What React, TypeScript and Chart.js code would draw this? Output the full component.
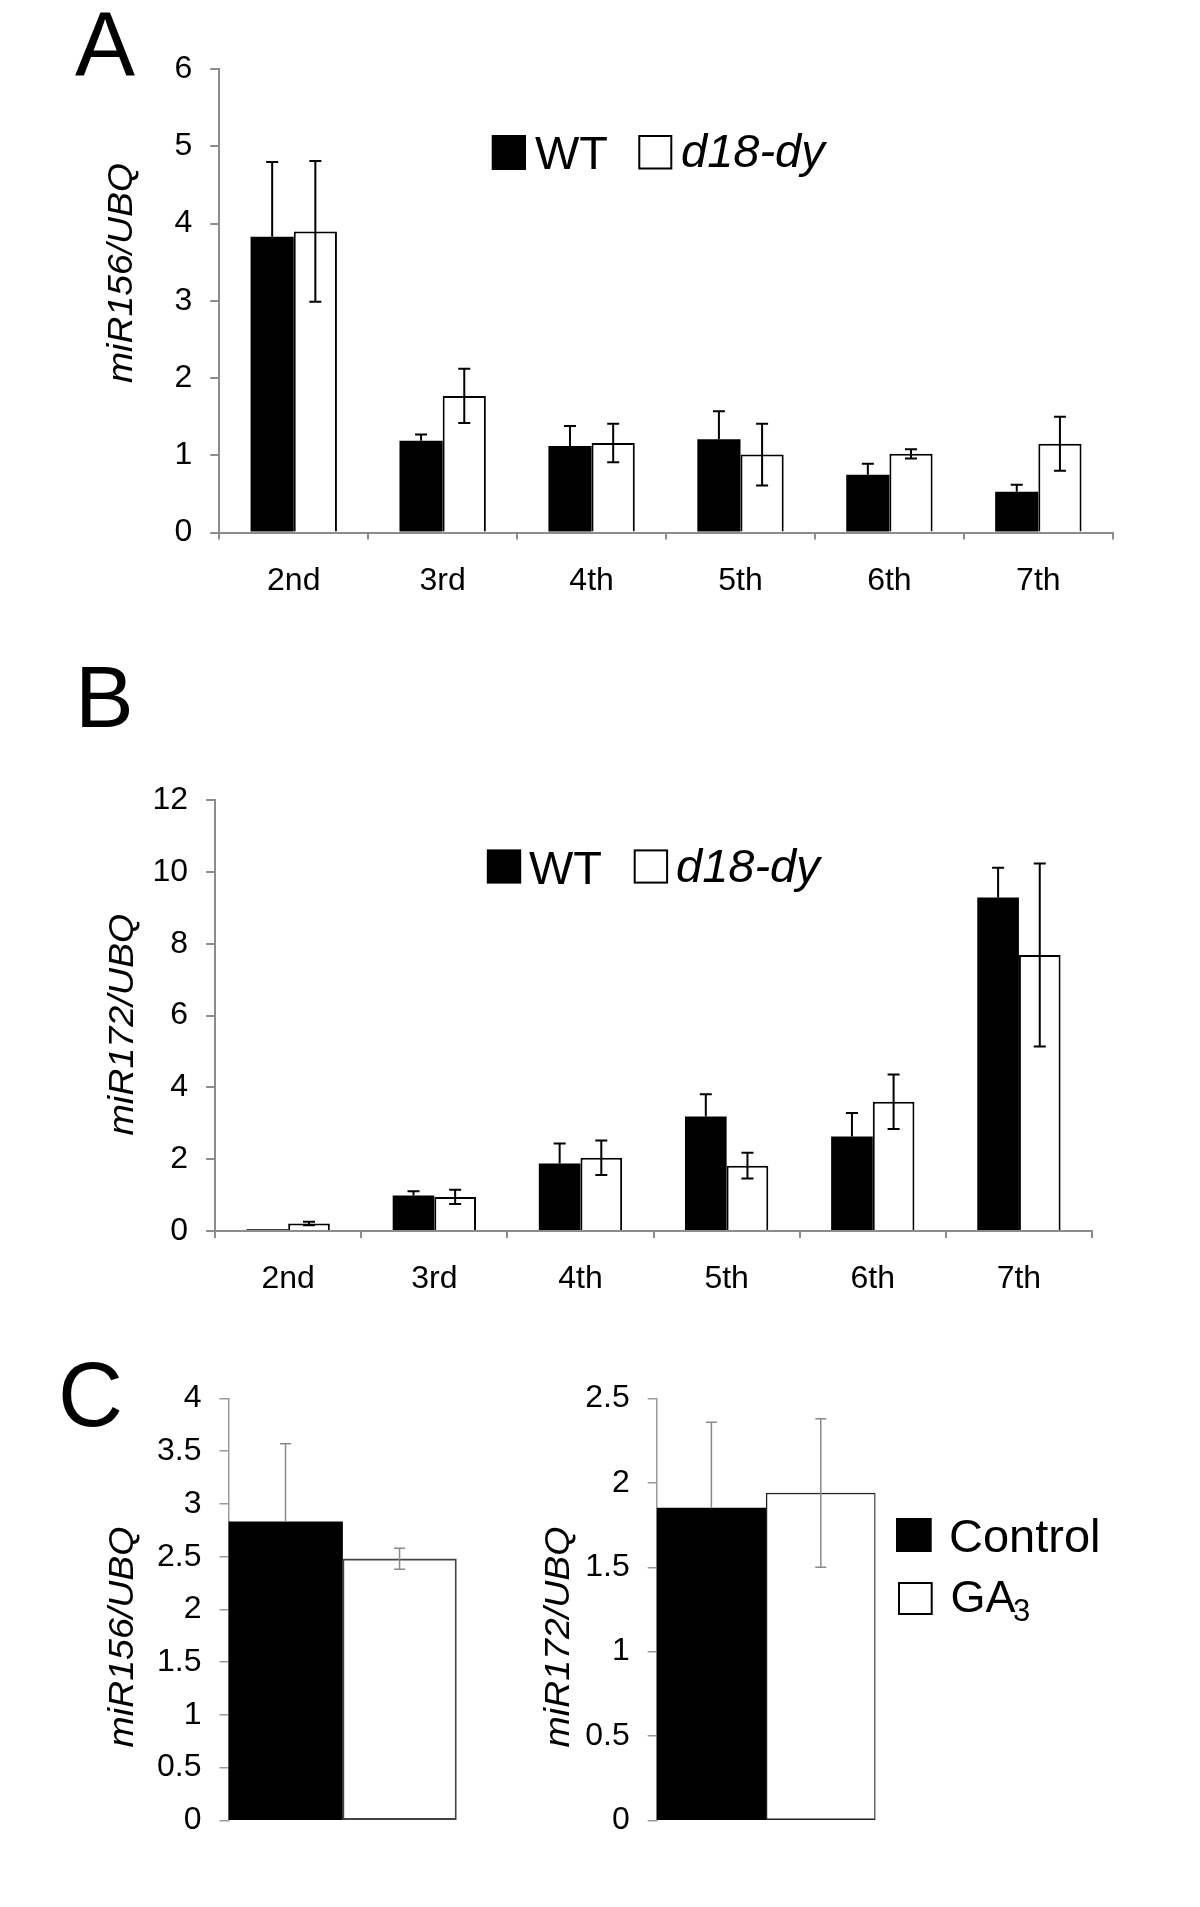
import React, { useEffect, useRef } from "react";
import { Chart, registerables } from "chart.js";

Chart.register(...registerables);

const FONT = "'Liberation Sans', Arial, Helvetica, sans-serif";

// ---------- data ----------
const leafCategories = ["2nd", "3rd", "4th", "5th", "6th", "7th"];

const miR156WT = [3.83, 1.19, 1.12, 1.21, 0.75, 0.53];
const miR156WTErr = [0.97, 0.08, 0.26, 0.36, 0.14, 0.09];
const miR156Dy = [3.9, 1.77, 1.16, 1.01, 1.02, 1.15];
const miR156DyErr = [0.91, 0.35, 0.25, 0.4, 0.06, 0.35];

const miR172WT = [0.05, 0.99, 1.88, 3.19, 2.63, 9.29];
const miR172WTErr = [0, 0.12, 0.56, 0.62, 0.66, 0.83];
const miR172Dy = [0.21, 0.95, 2.04, 1.82, 3.6, 7.69];
const miR172DyErr = [0.05, 0.2, 0.48, 0.36, 0.76, 2.55];

const treatments = ["Control", "GA3"];
const gaMiR156 = [2.83, 2.48];
const gaMiR156Err = [0.74, 0.1];
const gaMiR172 = [1.85, 1.94];
const gaMiR172Err = [0.51, 0.44];

const ticksA = { max: 6, step: 1 };
const ticksB = { max: 12, step: 2 };
const ticksC1 = { max: 4, step: 0.5 };
const ticksC2 = { max: 2.5, step: 0.5 };

// ---------- helpers ----------
type ErrSpec = {
  errors: number[];
  plusOnly: boolean[];
  color: string;
  width: number;
  cap: number;
};

function makeErrorPlugin(specs: (ErrSpec | null)[]) {
  return {
    id: "errorBars",
    afterDatasetsDraw(chart: any) {
      const ctx = chart.ctx;
      const ys = chart.scales.y;
      specs.forEach((spec, di) => {
        if (!spec) return;
        const meta = chart.getDatasetMeta(di);
        const vals = chart.data.datasets[di].data as number[];
        meta.data.forEach((el: any, i: number) => {
          const v = vals[i];
          const e = spec.errors[i];
          if (!e) return;
          const x = el.x;
          const top = ys.getPixelForValue(v + e);
          const bot = ys.getPixelForValue(spec.plusOnly[i] ? v : v - e);
          ctx.save();
          ctx.strokeStyle = spec.color;
          ctx.lineWidth = spec.width;
          ctx.beginPath();
          ctx.moveTo(x, top);
          ctx.lineTo(x, bot);
          ctx.moveTo(x - spec.cap, top);
          ctx.lineTo(x + spec.cap, top);
          if (!spec.plusOnly[i]) {
            ctx.moveTo(x - spec.cap, bot);
            ctx.lineTo(x + spec.cap, bot);
          }
          ctx.stroke();
          ctx.restore();
        });
      });
    },
  };
}

function makeDecorPlugin(ox: number, oy: number, draw: (ctx: CanvasRenderingContext2D) => void) {
  return {
    id: "decor",
    afterDraw(chart: any) {
      const ctx = chart.ctx as CanvasRenderingContext2D;
      ctx.save();
      ctx.translate(-ox, -oy);
      draw(ctx);
      ctx.restore();
    },
  };
}

function txt(ctx: CanvasRenderingContext2D, s: string, x: number, y: number, font: string) {
  ctx.save();
  ctx.font = font;
  ctx.fillStyle = "#000";
  ctx.textAlign = "left";
  ctx.textBaseline = "alphabetic";
  ctx.fillText(s, x, y);
  ctx.restore();
}

function vtitle(ctx: CanvasRenderingContext2D, s: string, bx: number, cy: number, len: number) {
  ctx.save();
  ctx.translate(bx, cy);
  ctx.rotate(-Math.PI / 2);
  ctx.font = `italic 35px ${FONT}`;
  const w = ctx.measureText(s).width;
  ctx.scale(len / w, 1);
  ctx.fillStyle = "#000";
  ctx.textAlign = "center";
  ctx.textBaseline = "alphabetic";
  ctx.fillText(s, 0, 0);
  ctx.restore();
}

function blackBox(ctx: CanvasRenderingContext2D, x0: number, y0: number, x1: number, y1: number) {
  ctx.save();
  ctx.fillStyle = "#000";
  ctx.fillRect(x0, y0, x1 - x0, y1 - y0);
  ctx.restore();
}

function whiteBox(ctx: CanvasRenderingContext2D, x0: number, y0: number, x1: number, y1: number) {
  ctx.save();
  ctx.fillStyle = "#fff";
  ctx.fillRect(x0, y0, x1 - x0, y1 - y0);
  ctx.strokeStyle = "#000";
  ctx.lineWidth = 2;
  ctx.strokeRect(x0 + 1, y0 + 1, x1 - x0 - 2, y1 - y0 - 2);
  ctx.restore();
}

type Area = { left: number; right: number; top: number; bottom: number };

function buildConfig(p: {
  labels: string[];
  datasets: any[];
  yMax: number;
  yStep: number;
  area: Area;
  w: number;
  h: number;
  showX: boolean;
  catPct: number;
  axisColor: string;
  axisWidth: number;
  tickFont: number;
  plugins: any[];
}): any {
  const { area, w, h } = p;
  return {
    type: "bar",
    data: { labels: p.labels, datasets: p.datasets },
    options: {
      responsive: false,
      maintainAspectRatio: false,
      animation: false,
      devicePixelRatio: 1,
      layout: {
        padding: {
          left: 0,
          top: area.top,
          right: w - area.right,
          bottom: p.showX ? 0 : h - area.bottom,
        },
      },
      plugins: { legend: { display: false }, tooltip: { enabled: false } },
      datasets: { bar: { categoryPercentage: p.catPct, barPercentage: 1 } },
      scales: {
        x: {
          display: p.showX,
          offset: true,
          grid: {
            display: true,
            offset: true,
            drawOnChartArea: false,
            drawTicks: true,
            tickLength: 7,
            color: p.axisColor,
            lineWidth: p.axisWidth,
          },
          border: { display: true, color: p.axisColor, width: p.axisWidth },
          ticks: {
            color: "#000",
            font: { family: FONT, size: 32 },
            padding: 22,
            maxRotation: 0,
            autoSkip: false,
          },
          afterFit: (s: any) => {
            s.height = h - area.bottom;
          },
        },
        y: {
          min: 0,
          max: p.yMax,
          ticks: {
            stepSize: p.yStep,
            color: "#000",
            font: { family: FONT, size: p.tickFont },
            padding: 18,
            callback: (v: any) => String(Number(v)),
          },
          grid: {
            display: true,
            drawOnChartArea: false,
            drawTicks: true,
            tickLength: 9,
            color: p.axisColor,
            lineWidth: p.axisWidth,
          },
          border: { display: true, color: p.axisColor, width: p.axisWidth },
          afterFit: (s: any) => {
            s.width = area.left;
          },
        },
      },
    },
    plugins: p.plugins,
  };
}

function ChartCanvas(props: { left: number; top: number; width: number; height: number; build: () => any }) {
  const ref = useRef<HTMLCanvasElement>(null);
  useEffect(() => {
    const chart = new Chart(ref.current as HTMLCanvasElement, props.build());
    return () => chart.destroy();
  }, []);
  return (
    <canvas
      ref={ref}
      width={props.width}
      height={props.height}
      style={{ position: "absolute", left: props.left, top: props.top, width: props.width, height: props.height }}
    />
  );
}

// ---------- panels ----------
const buildA = () =>
  buildConfig({
    labels: leafCategories,
    datasets: [
      { label: "WT", data: miR156WT, backgroundColor: "#000", borderColor: "#000", borderWidth: 0 },
      { label: "d18-dy", data: miR156Dy, backgroundColor: "#fff", borderColor: "#000", borderWidth: 2 },
    ],
    yMax: ticksA.max,
    yStep: ticksA.step,
    area: { left: 219.3, right: 1112.8, top: 69.2, bottom: 532.6 },
    w: 1200,
    h: 620,
    showX: true,
    catPct: 0.58,
    axisColor: "#8c8c8c",
    axisWidth: 2,
    tickFont: 32,
    plugins: [
      makeErrorPlugin([
        { errors: miR156WTErr, plusOnly: miR156WT.map(() => true), color: "#000", width: 2, cap: 6 },
        { errors: miR156DyErr, plusOnly: miR156Dy.map(() => false), color: "#000", width: 2, cap: 6 },
      ]),
      makeDecorPlugin(0, 0, (ctx) => {
        txt(ctx, "A", 75, 75, `90px ${FONT}`);
        vtitle(ctx, "miR156/UBQ", 132, 273, 220);
        blackBox(ctx, 491.7, 135, 526, 170);
        txt(ctx, "WT", 535, 169, `47px ${FONT}`);
        whiteBox(ctx, 638.3, 135, 672.3, 169.5);
        txt(ctx, "d18-dy", 681, 166.5, `italic 47px ${FONT}`);
      }),
    ],
  });

const buildB = () =>
  buildConfig({
    labels: leafCategories,
    datasets: [
      { label: "WT", data: miR172WT, backgroundColor: "#000", borderColor: "#000", borderWidth: 0 },
      { label: "d18-dy", data: miR172Dy, backgroundColor: "#fff", borderColor: "#000", borderWidth: 2 },
    ],
    yMax: ticksB.max,
    yStep: ticksB.step,
    area: { left: 215.1, right: 1092, top: 180.3, bottom: 611 },
    w: 1200,
    h: 700,
    showX: true,
    catPct: 0.57,
    axisColor: "#8c8c8c",
    axisWidth: 2,
    tickFont: 32,
    plugins: [
      makeErrorPlugin([
        { errors: miR172WTErr, plusOnly: miR172WT.map(() => true), color: "#000", width: 2, cap: 6 },
        { errors: miR172DyErr, plusOnly: miR172Dy.map(() => false), color: "#000", width: 2, cap: 6 },
      ]),
      makeDecorPlugin(0, 620, (ctx) => {
        txt(ctx, "B", 75, 727, `88px ${FONT}`);
        vtitle(ctx, "miR172/UBQ", 133, 1024.6, 222);
        blackBox(ctx, 486.8, 849.4, 521.2, 883.6);
        txt(ctx, "WT", 529, 883.5, `47px ${FONT}`);
        whiteBox(ctx, 633.7, 849.4, 668.1, 883.6);
        txt(ctx, "d18-dy", 676, 881.5, `italic 47px ${FONT}`);
      }),
    ],
  });

const buildC1 = () =>
  buildConfig({
    labels: treatments,
    datasets: [
      {
        label: "miR156",
        data: gaMiR156,
        backgroundColor: ["#000", "#fff"],
        borderColor: ["#000", "#444"],
        borderWidth: [0, 2],
        borderSkipped: false,
      },
    ],
    yMax: ticksC1.max,
    yStep: ticksC1.step,
    area: { left: 228.5, right: 456.6, top: 78.5, bottom: 543.7 },
    w: 500,
    h: 587,
    showX: false,
    catPct: 1,
    axisColor: "#9a9a9a",
    axisWidth: 1.5,
    tickFont: 32,
    plugins: [
      makeErrorPlugin([
        { errors: gaMiR156Err, plusOnly: [true, false], color: "#8a8a8a", width: 1.5, cap: 5.5 },
      ]),
      makeDecorPlugin(0, 1320, (ctx) => {
        txt(ctx, "C", 58, 1426, `90px ${FONT}`);
        vtitle(ctx, "miR156/UBQ", 132.5, 1637, 221);
      }),
    ],
  });

const buildC2 = () =>
  buildConfig({
    labels: treatments,
    datasets: [
      {
        label: "miR172",
        data: gaMiR172,
        backgroundColor: ["#000", "#fff"],
        borderColor: ["#000", "#222"],
        borderWidth: [0, 1.5],
        borderSkipped: false,
      },
    ],
    yMax: ticksC2.max,
    yStep: ticksC2.step,
    area: { left: 156.7, right: 375.5, top: 78.5, bottom: 543.7 },
    w: 700,
    h: 587,
    showX: false,
    catPct: 1,
    axisColor: "#9a9a9a",
    axisWidth: 1.5,
    tickFont: 32,
    plugins: [
      makeErrorPlugin([
        { errors: gaMiR172Err, plusOnly: [true, false], color: "#8a8a8a", width: 1.5, cap: 5.5 },
      ]),
      makeDecorPlugin(500, 1320, (ctx) => {
        vtitle(ctx, "miR172/UBQ", 569, 1637, 221);
        blackBox(ctx, 896, 1518, 931.7, 1552);
        txt(ctx, "Control", 949, 1552, `47px ${FONT}`);
        whiteBox(ctx, 898, 1582, 932.7, 1615);
        txt(ctx, "GA", 950.5, 1612, `45px ${FONT}`);
        txt(ctx, "3", 1013, 1621, `31px ${FONT}`);
      }),
    ],
  });

export default function App() {
  return (
    <div
      style={{
        position: "absolute",
        left: 0,
        top: 0,
        width: 1200,
        height: 1907,
        background: "#fff",
        overflow: "hidden",
      }}
    >
      <ChartCanvas left={0} top={0} width={1200} height={620} build={buildA} />
      <ChartCanvas left={0} top={620} width={1200} height={700} build={buildB} />
      <ChartCanvas left={0} top={1320} width={500} height={587} build={buildC1} />
      <ChartCanvas left={500} top={1320} width={700} height={587} build={buildC2} />
    </div>
  );
}
